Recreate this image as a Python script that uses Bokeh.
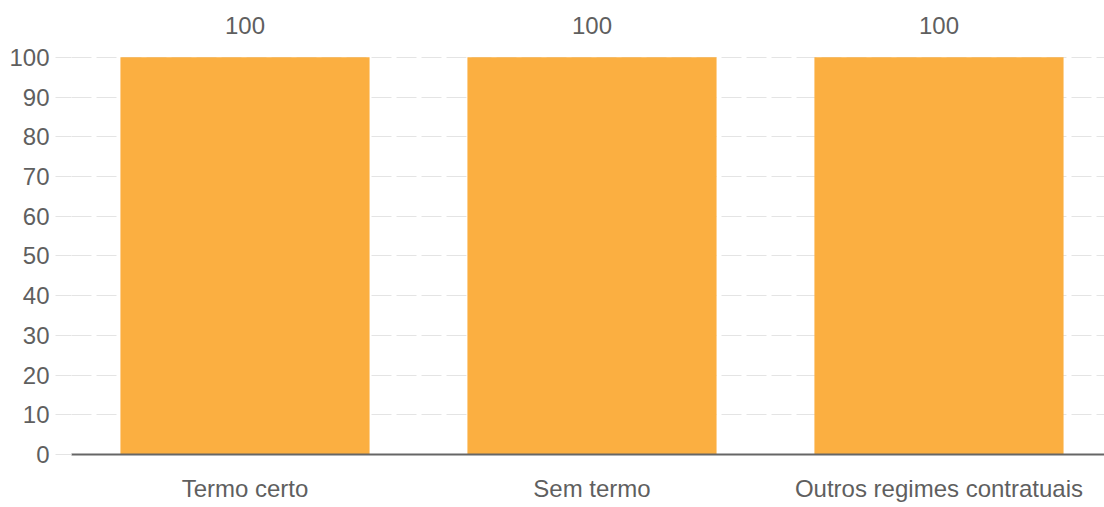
from bokeh.plotting import figure
from bokeh.models import ColumnDataSource, Range1d, FixedTicker, LabelSet
from bokeh.core.properties import value
from bokeh.embed import file_html
from bokeh.resources import INLINE

categories = ["Termo certo", "Sem termo", "Outros regimes contratuais"]
values = [100, 100, 100]
y_ticks = [0, 10, 20, 30, 40, 50, 60, 70, 80, 90, 100]

positions = [i + 0.5 for i in range(len(categories))]
labels = [str(v) for v in values]
src = ColumnDataSource(dict(x=positions, top=values, lab=labels))

FONT = "Liberation Sans"
TXT = "#5f5f5f"
FS = "24px"

p = figure(frame_width=1033, frame_height=446,
           x_range=Range1d(0, 2.977), y_range=Range1d(0, 112.3),
           output_backend="svg", toolbar_location=None,
           min_border_left=71, min_border_right=0, min_border_top=8, min_border_bottom=0)
p.outline_line_color = None
p.background_fill_color = "white"

p.vbar(x="x", top="top", width=0.718, bottom=0, source=src,
       fill_color="#FBAF41", line_color=None)

p.add_layout(LabelSet(x="x", y="top", text="lab", source=src,
                      text_align="center", text_baseline="middle", y_offset=32,
                      text_font=value(FONT), text_font_size=FS, text_color=TXT))

p.xgrid.grid_line_color = None
p.ygrid.grid_line_color = "#e4e4e4"
p.ygrid.grid_line_dash = "20 5"
p.ygrid.grid_line_width = 1

yax = p.yaxis[0]
yax.ticker = FixedTicker(ticks=y_ticks)
yax.axis_line_color = None
yax.major_tick_in = 0
yax.major_tick_out = 16
yax.major_tick_line_color = "#e4e4e4"
yax.minor_tick_line_color = None
yax.major_label_standoff = 6
yax.major_label_text_font = FONT
yax.major_label_text_font_size = FS
yax.major_label_text_color = TXT

xax = p.xaxis[0]
xax.ticker = FixedTicker(ticks=positions)
xax.major_label_overrides = {pos: c for pos, c in zip(positions, categories)}
xax.axis_line_color = "#666666"
xax.axis_line_width = 2
xax.major_tick_line_color = None
xax.minor_tick_line_color = None
xax.major_tick_in = 0
xax.major_tick_out = 0
xax.major_label_standoff = 20
xax.major_label_text_font = FONT
xax.major_label_text_font_size = FS
xax.major_label_text_color = TXT

open("out.html", "w").write(file_html(p, INLINE))
